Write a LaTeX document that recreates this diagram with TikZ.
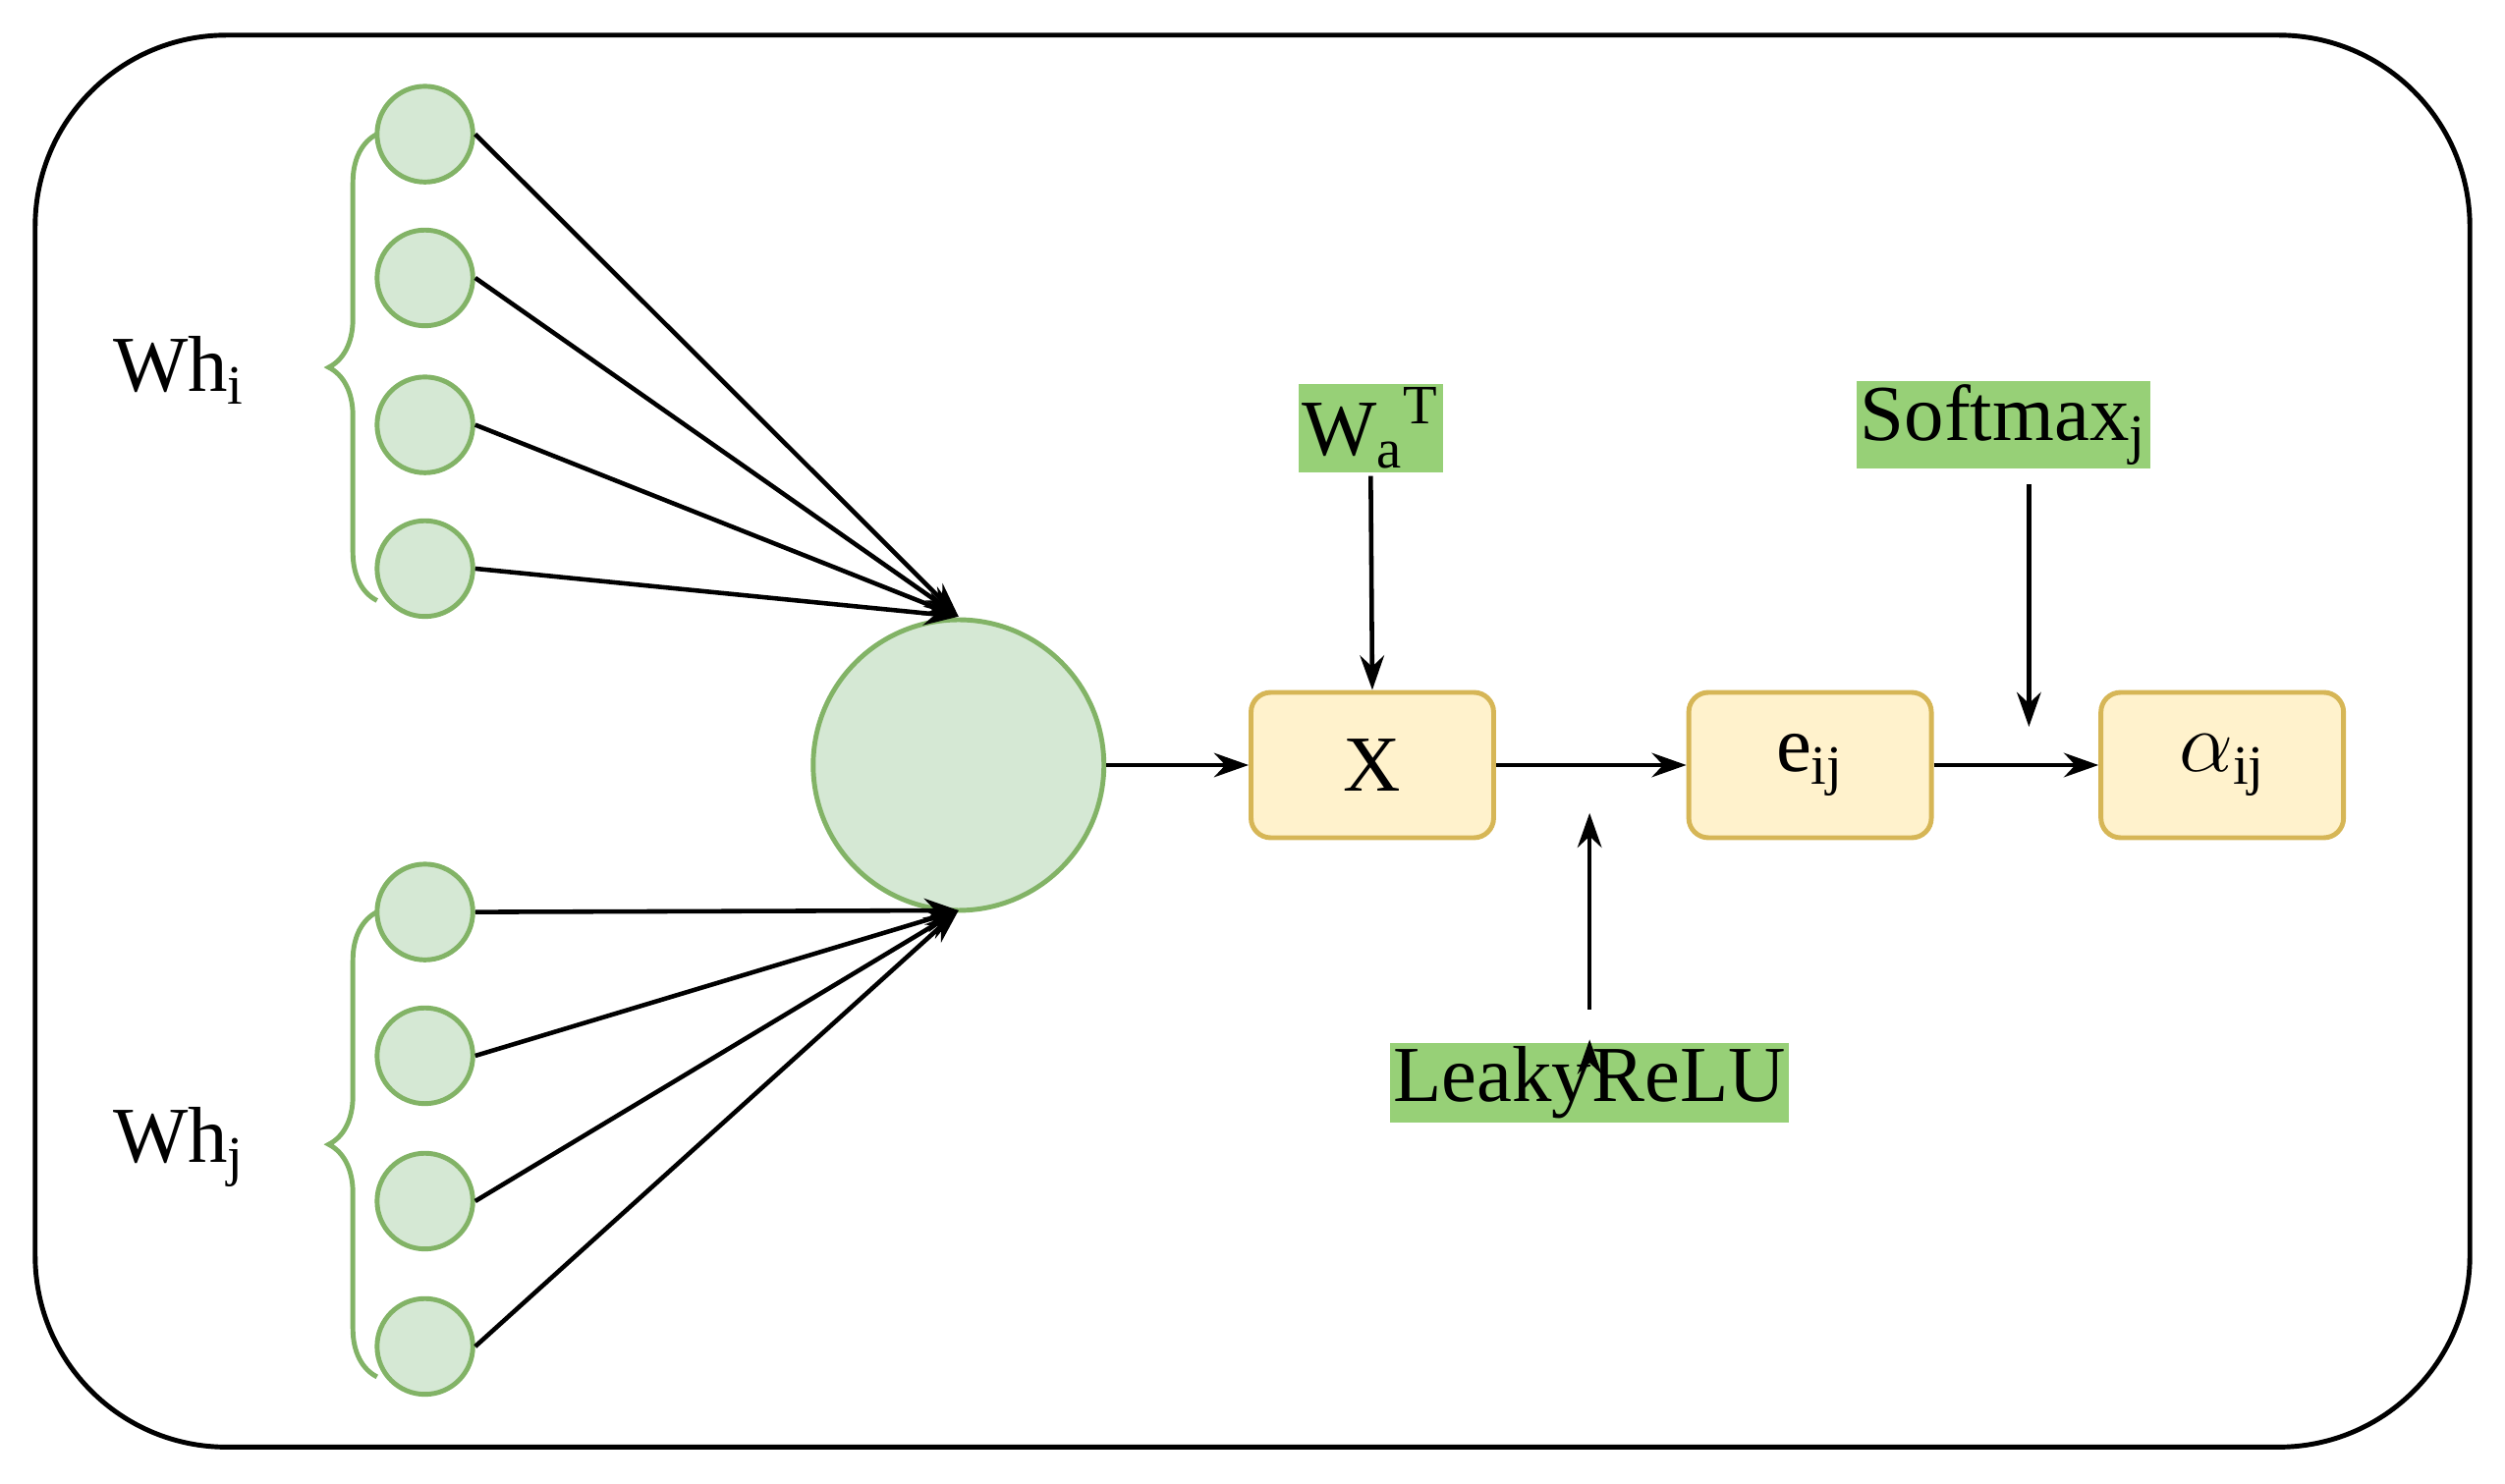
\documentclass[tikz,border=0pt]{standalone}
\usepackage{fontspec}
\setmainfont{Liberation Serif}
\usetikzlibrary{decorations.pathreplacing,arrows.meta}
\definecolor{gfill}{HTML}{D5E8D4}
\definecolor{gline}{HTML}{82B366}
\definecolor{yfill}{HTML}{FFF2CC}
\definecolor{yline}{HTML}{D6B656}
\definecolor{lab}{HTML}{97D077}
\begin{document}
\begin{tikzpicture}[x=0.01626cm,y=-0.01626cm,
  sc/.style={circle,draw=gline,fill=gfill,line width=1.4pt,minimum size=60\pgflinewidth*0+0.975cm,inner sep=0},
  bx/.style={rectangle,rounded corners=0.2cm,draw=yline,fill=yfill,line width=1.4pt,minimum width=2.47cm,minimum height=1.48cm,font=\fontsize{23}{27}\selectfont},
  lb/.style={fill=lab,inner sep=1pt,font=\fontsize{23}{27}\selectfont},
  ar/.style={-{Stealth[length=10pt,width=7pt]},line width=1.3pt},
  br/.style={decorate,decoration={brace,amplitude=14pt,mirror},draw=gline,line width=1.4pt},
  txt/.style={font=\fontsize{23}{27}\selectfont}]
\useasboundingbox (0,0) rectangle (1568,928.6);
\draw[line width=1.4pt,rounded corners=1.95cm] (22,22) rectangle (1546,906);
\foreach \n/\y in {a/84,b/174,c/266,d/356,e/571,f/661,g/752,h/843}{
  \node[sc] (\n) at (266,\y) {};}
\node[circle,draw=gline,fill=gfill,line width=1.4pt,minimum size=2.96cm,inner sep=0] (big) at (600,479) {};
\coordinate (tin) at (600,386);
\coordinate (bin) at (600,570);
\foreach \n in {a,b,c,d}{\draw[ar] (\n.east) -- (tin);}
\foreach \n in {e,f,g,h}{\draw[ar] (\n.east) -- (bin);}
\draw[br] (236,84) -- (236,376);
\draw[br] (236,571) -- (236,862);
\node[txt] (whi) at (112,232) {Wh\textsubscript{i}};
\node[txt] (whj) at (112,718) {Wh\textsubscript{j}};
\node[bx] (x) at (859,479) {X};
\node[bx] (e) at (1133,479) {e\textsubscript{ij}};
\node[bx] (al) at (1391,479) {$\alpha$\textsubscript{ij}};
\draw[ar] (big.east) -- (x.west);
\draw[ar] (x.east) -- (e.west);
\draw[ar] (e.east) -- (al.west);
\node[lb] (wa) at (858,268) {W\textsubscript{a}\textsuperscript{T}};
\draw[ar] (858,298) -- (x.north);
\node[lb] (lr) at (995,678) {LeakyReLU};
\coordinate (lre) at (995,509);
\draw[ar] (lr.north) ++(0,-2) coordinate (lrs);
\draw[ar] (995,632) -- (lre);
\node[lb] (sm) at (1254,266) {Softmax\textsubscript{j}};
\coordinate (sme) at (1270,455);
\draw[ar] (1270,303) -- (sme);
\end{tikzpicture}
\end{document}
